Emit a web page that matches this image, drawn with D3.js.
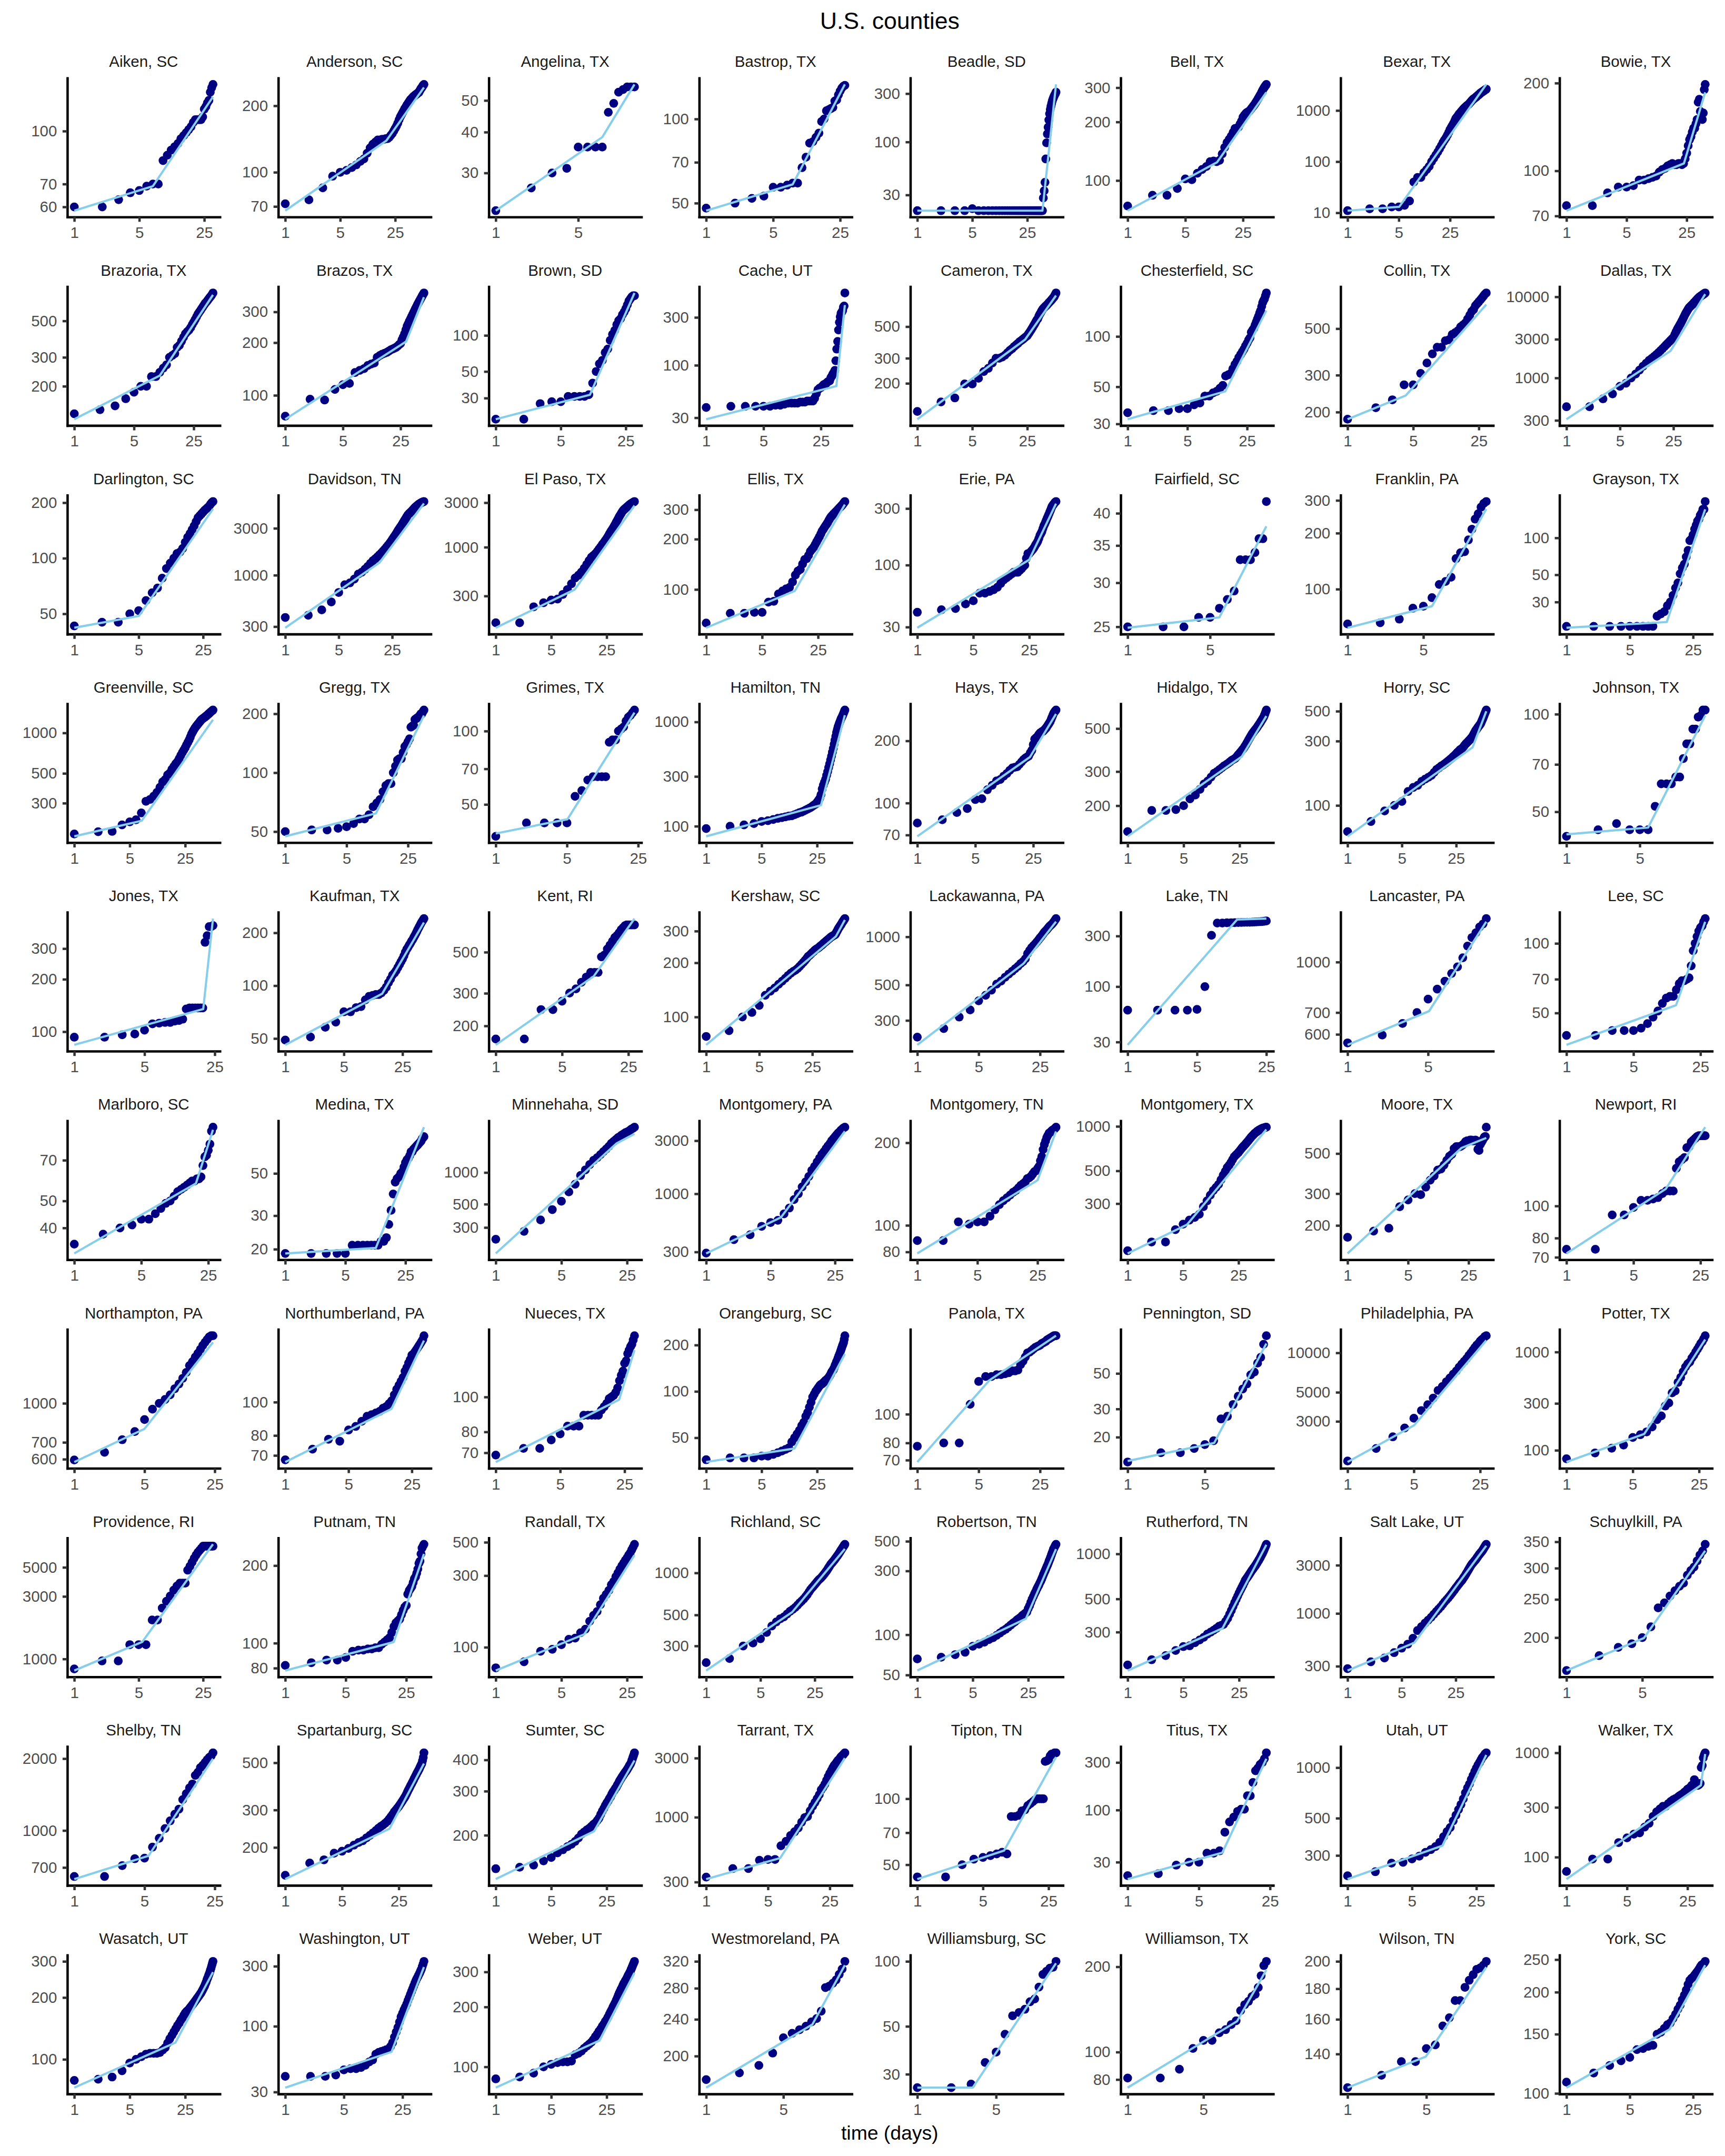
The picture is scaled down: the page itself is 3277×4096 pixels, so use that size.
<!DOCTYPE html>
<html><head><meta charset="utf-8">
<script src="https://cdn.jsdelivr.net/npm/d3@7"></script>
<style>html,body{margin:0;padding:0;background:#fff;}svg{display:block;}</style>
</head><body><svg id="chart" width="3277" height="4096"></svg>
<script>
const chartTitle = "U.S. counties";
const xAxisTitle = "time (days)";
const xTickValues = [1, 5, 25];

const countyNames = [
"Aiken, SC","Anderson, SC","Angelina, TX","Bastrop, TX","Beadle, SD","Bell, TX","Bexar, TX","Bowie, TX",
"Brazoria, TX","Brazos, TX","Brown, SD","Cache, UT","Cameron, TX","Chesterfield, SC","Collin, TX","Dallas, TX",
"Darlington, SC","Davidson, TN","El Paso, TX","Ellis, TX","Erie, PA","Fairfield, SC","Franklin, PA","Grayson, TX",
"Greenville, SC","Gregg, TX","Grimes, TX","Hamilton, TN","Hays, TX","Hidalgo, TX","Horry, SC","Johnson, TX",
"Jones, TX","Kaufman, TX","Kent, RI","Kershaw, SC","Lackawanna, PA","Lake, TN","Lancaster, PA","Lee, SC",
"Marlboro, SC","Medina, TX","Minnehaha, SD","Montgomery, PA","Montgomery, TN","Montgomery, TX","Moore, TX","Newport, RI",
"Northampton, PA","Northumberland, PA","Nueces, TX","Orangeburg, SC","Panola, TX","Pennington, SD","Philadelphia, PA","Potter, TX",
"Providence, RI","Putnam, TN","Randall, TX","Richland, SC","Robertson, TN","Rutherford, TN","Salt Lake, UT","Schuylkill, PA",
"Shelby, TN","Spartanburg, SC","Sumter, SC","Tarrant, TX","Tipton, TN","Titus, TX","Utah, UT","Walker, TX",
"Wasatch, UT","Washington, UT","Weber, UT","Westmoreland, PA","Williamsburg, SC","Williamson, TX","Wilson, TN","York, SC"];

const yTickValues = [
[60,70,100],[70,100,200],[30,40,50],[50,70,100],[30,100,300],[100,200,300],[10,100,1000],[70,100,200],
[200,300,500],[100,200,300],[30,50,100],[30,100,300],[200,300,500],[30,50,100],[200,300,500],[300,1000,3000,10000],
[50,100,200],[300,1000,3000],[300,1000,3000],[100,200,300],[30,100,300],[25,30,35,40],[100,200,300],[30,50,100],
[300,500,1000],[50,100,200],[50,70,100],[100,300,1000],[70,100,200],[200,300,500],[100,300,500],[50,70,100],
[100,200,300],[50,100,200],[200,300,500],[100,200,300],[300,500,1000],[30,100,300],[600,700,1000],[50,70,100],
[40,50,70],[20,30,50],[300,500,1000],[300,1000,3000],[80,100,200],[300,500,1000],[200,300,500],[70,80,100],
[600,700,1000],[70,80,100],[70,80,100],[50,100,200],[70,80,100],[20,30,50],[3000,5000,10000],[100,300,1000],
[1000,3000,5000],[80,100,200],[100,300,500],[300,500,1000],[50,100,300,500],[300,500,1000],[300,1000,3000],[200,250,300,350],
[700,1000,2000],[200,300,500],[200,300,400],[300,1000,3000],[50,70,100],[30,100,300],[300,500,1000],[100,300,1000],
[100,200,300],[30,100,300],[100,200,300],[200,240,280,320],[30,50,100],[80,100,200],[140,160,180,200],[100,150,200,250]];

const dailyCounts = [
[60,60,63,66,67,69,70,70,82,85,88,90,92,95,97,99,101,103,106,108,108,108,108,110,116,118,121,123,130,134,137],
[72,75,85,96,100,102,105,108,112,115,122,129,134,137,140,140,141,141,142,142,144,147,150,154,158,162,167,173,178,182,186,190,194,197,201,204,207,210,213,215,217,219,221,222,224,225,226,228,229,230,233,236,239,241,243,246,248,250],
[23,27,30,31,36,36,36,36,46,49,53,54,55,55,55],
[48,50,52,53,57,57,58,59,59,67,73,82,83,86,89,98,100,107,108,109,110,116,117,122,126,129,131,132],
[21,21,21,21,22,21,21,21,21,21,21,21,21,21,21,21,21,21,21,21,21,21,21,21,21,21,21,21,21,21,21,21,21,21,21,21,21,21,21,28,33,40,68,98,120,140,165,190,210,225,240,255,265,275,285,293,300,310],
[74,84,84,91,102,101,109,114,118,125,126,125,127,137,148,157,163,169,177,185,186,188,195,202,212,217,221,224,226,228,232,236,240,244,248,253,258,263,268,273,278,284,290,295,300,304,308,312],
[11,12,12,13,13,14,17,40,49,49,61,70,81,100,117,135,155,179,206,237,265,293,330,375,425,470,515,565,630,700,740,790,840,885,930,975,1020,1065,1110,1150,1190,1225,1260,1295,1330,1380,1430,1480,1535,1590,1630,1670,1710,1740,1770,1810,1850,1890,1930,1970,2010,2055,2100,2145,2190,2220,2255,2290,2320,2350,2385,2420,2455,2490,2520,2555,2590,2620],
[76,76,84,88,88,89,93,93,94,95,96,99,101,102,104,105,106,105,105,106,106,105,106,110,115,122,128,131,136,140,140,145,150,172,176,160,152,150,158,190,198],
[136,144,152,168,184,200,200,229,229,243,258,270,300,308,316,345,355,376,398,418,430,440,455,475,492,510,530,550,565,580,595,610,625,640,650,662,675,688,700,710,725,740],
[76,95,94,108,115,117,135,139,142,148,151,153,165,169,172,174,176,179,182,184,186,188,191,195,198,208,216,225,237,249,257,266,274,282,290,298,306,314,322,330,337,344,351,358,365,372,379,385],
[20,20,27,28,28,31,31,31,31,32,40,50,58,62,72,77,91,102,110,123,133,138,149,157,167,180,194,202,210,214,214],
[38,39,39,39,39,39,40,40,41,42,42,42,42,43,43,43,44,44,44,44,47,52,57,59,60,62,64,65,66,68,69,70,75,78,82,85,89,111,145,173,225,268,305,330,340,350,380,390,526],
[127,148,158,198,198,217,242,255,278,300,300,306,315,328,341,350,362,372,381,392,400,408,416,424,432,446,460,475,490,506,522,539,556,568,592,610,625,643,658,672,680,690,698,706,715,725,735,744,753,762,772,782,792,801,811,830,845,862],
[35,36,36,37,37,39,40,44,44,46,47,49,51,58,59,60,64,68,71,75,78,81,84,88,91,95,98,106,109,112,117,122,127,132,138,143,151,159,164,168,175,182],
[185,210,229,270,270,306,343,379,408,408,438,443,469,479,489,510,521,533,556,580,604,617,644,658,672,686,700,715,730,740],
[442,442,553,636,790,860,1000,1117,1250,1395,1520,1647,1745,1843,1950,2060,2180,2300,2420,2550,2670,2790,2920,3040,3170,3420,3700,3970,4200,4440,4700,4970,5250,5570,5890,6210,6490,6780,7060,7340,7510,7680,7850,8020,8190,8380,8570,8760,8950,9150,9320,9490,9660,9830,10000,10110,10220,10340,10460,10570,10690,10810,10930,11050,11170],
[43,45,45,50,52,59,65,69,78,88,94,100,106,108,113,122,130,136,143,150,158,166,170,174,178,182,185,188,191,196,200,203],
[372,392,444,535,668,800,836,913,1027,1074,1150,1230,1320,1405,1470,1537,1610,1680,1760,1840,1925,2010,2100,2200,2300,2410,2520,2630,2750,2875,2980,3090,3200,3330,3460,3590,3710,3840,3970,4100,4180,4260,4340,4410,4490,4570,4660,4740,4830,4910,4975,5040,5100,5170,5230,5280,5330,5380,5420,5470,5500,5530,5560,5590,5620],
[155,155,230,254,272,278,312,352,406,468,500,541,595,655,720,780,815,852,900,955,1010,1070,1120,1180,1240,1310,1385,1460,1530,1600,1680,1760,1850,1940,2030,2130,2210,2290,2380,2460,2510,2560,2610,2650,2700,2740,2780,2830,2870,2910,2940,2970,3000,3030,3060,3090],
[63,72,72,73,73,84,85,94,98,101,103,111,122,129,132,142,151,153,160,169,174,179,186,193,200,207,215,223,229,235,241,246,252,259,265,271,275,279,283,286,290,293,296,300,303,307,310,313,317,320,324,328,332,336],
[40,42,43,47,50,58,58,60,62,65,70,75,78,81,84,87,87,87,90,93,97,100,114,125,125,129,133,137,142,148,153,159,168,178,185,192,203,214,222,231,240,250,259,269,279,289,300,312,318,324,330,336,340,344],
[25,25,25,26,26,27,28,29,33,33,33,34,36,36,42],
[65,66,69,79,81,90,106,110,116,146,157,159,184,210,238,254,276,289,296],
[19,19,19,19,19,19,19,19,19,23,24,25,28,30,34,39,43,51,57,61,70,79,95,98,106,118,127,137,142,153,159,171,171,198],
[177,184,185,207,218,226,254,310,320,338,361,394,432,450,487,503,537,563,590,612,645,680,715,745,777,815,850,887,930,980,1015,1050,1083,1110,1135,1158,1182,1206,1230,1254,1268,1282,1295,1308,1322,1336,1350,1365,1380,1395,1410,1425,1440,1455,1468,1480],
[50,51,51,52,53,55,58,58,61,67,70,73,80,86,88,88,100,108,116,118,118,127,136,139,144,149,171,173,175,187,189,191,193,196,200,200,205,209],
[37,42,42,42,42,54,57,63,65,65,65,65,90,92,92,100,102,104,110,114,116,119,122],
[95,100,103,106,111,113,116,119,121,123,125,126,129,132,135,137,140,143,146,149,152,156,160,163,170,177,185,201,228,248,265,282,308,334,365,396,433,470,513,557,612,668,730,793,848,902,942,983,1025,1070,1100,1135,1175,1217,1258,1300],
[80,83,90,94,104,105,116,122,128,130,135,139,144,148,149,150,154,158,162,165,167,169,175,180,192,204,207,209,214,218,220,222,223,226,229,232,236,240,244,248,254,260,266,272,276,279,282],
[147,189,189,191,200,217,227,243,259,268,281,294,300,307,314,321,326,331,337,343,347,351,358,366,373,380,388,395,404,413,423,433,443,452,462,471,478,485,492,498,505,512,520,527,534,542,550,558,566,573,585,597,610,623],
[64,76,91,100,107,127,136,141,151,157,162,167,176,185,190,196,200,205,210,215,220,225,231,236,242,248,253,259,262,266,272,279,285,290,295,300,305,310,316,321,329,338,346,355,362,368,375,382,388,394,400,407,418,429,440,451,463,475,487,498,510],
[42,44,46,44,44,44,52,61,61,61,64,64,73,81,81,90,90,98,99,103,103],
[93,93,96,97,102,111,112,113,113,115,116,118,135,137,137,137,137,137,137,326,356,401,401,407],
[49,51,58,62,71,71,75,76,83,87,88,89,89,91,94,98,104,109,115,118,122,127,132,137,142,148,155,161,165,170,174,179,183,188,193,198,203,209,214,219,224,229,233,237,241],
[170,170,245,245,272,301,317,344,367,389,389,389,472,483,520,546,573,601,616,637,662,678,695,702,702,702,702,702,702],
[78,84,100,106,116,132,139,145,152,158,164,170,175,179,182,186,191,196,201,206,211,217,220,224,228,231,235,238,240,242,245,248,250,253,256,259,261,264,266,269,271,273,276,278,280,281,283,284,286,287,291,296,300,305,310,313,317,320,324,327,331,335,339,342,345,349,352],
[236,267,315,349,398,431,464,506,529,559,585,608,632,654,680,700,728,785,822,855,880,904,930,957,985,1011,1040,1069,1090,1112,1138,1163,1180,1196,1220,1244,1272,1300],
[60,60,60,60,61,100,305,398,398,400,400,401,402,403,404,405,405,406,407,408,409,410,412,414,416],
[565,597,648,700,770,826,874,923,967,1031,1120,1190,1230,1282,1310,1360],
[40,40,42,42,42,43,45,48,51,55,58,59,59,63,67,69,69,70,71,80,93,100,107,113,117,119,124,128],
[35,38,40,41,43,43,45,47,49,50,52,54,55,56,57,58,59,59,60,60,61,67,72,73,76,80,89,92],
[19,19,19,19,19,21,21,21,21,21,21,21,22,22,23,27,32,39,45,47,48,50,51,54,57,59,60,62,65,65,67,68,69,70,71,72,73,74,76,77,78],
[232,276,354,444,533,654,774,937,1060,1190,1305,1383,1478,1580,1675,1774,1896,1976,2060,2146,2200,2274,2331,2390,2430,2470,2533,2597,2640,2700],
[293,387,428,510,552,578,660,745,888,1000,1153,1279,1429,1623,1757,1932,2091,2264,2390,2547,2693,2826,3000,3120,3250,3380,3510,3600,3730,3820,3910,3970],
[88,88,103,101,103,103,108,114,119,123,126,129,132,134,137,140,142,144,148,149,151,154,157,158,161,164,172,178,189,197,203,209,213,217,218,220,222,223,224,226,228],
[144,165,165,200,218,232,242,254,286,313,342,368,386,405,435,467,496,527,546,569,595,622,638,652,667,686,704,721,736,751,766,782,797,813,830,846,859,872,885,898,907,916,925,934,942,948,954,960,966,971,974,977,980,983,986,988],
[172,186,193,254,277,300,296,326,356,376,405,411,432,459,483,495,533,546,546,546,555,566,582,588,588,594,594,588,588,594,588,528,520,560,574,588,602,617,622,700],
[74,74,94,94,99,104,104,105,106,109,111,111,111,130,136,138,140,150,151,156,158,160,162,163,163,163,163,163],
[596,639,717,773,862,948,1000,1036,1081,1143,1193,1257,1326,1412,1463,1526,1581,1639,1698,1747,1791,1835,1855,1855],
[68,73,78,77,83,85,88,91,92,93,94,96,97,99,101,105,109,112,115,118,123,126,130,133,137,138,140,142,144,146,148,150,152,156],
[69,72,72,76,79,83,83,83,89,89,89,89,89,92,94,96,99,100,101,103,106,111,115,118,124,126,132,135,138,140,144,148],
[36,37,37,37,38,38,39,40,41,42,43,47,50,53,56,60,63,69,73,79,85,92,96,100,103,106,109,111,112,114,116,118,119,121,123,126,129,133,136,138,142,147,151,156,160,165,170,175,180,186,191,197,202,208,218,230],
[78,80,80,108,129,134,134,136,136,137,138,140,140,141,147,151,156,161,162,164,166,168,169,170,171,173,174,175,176,178,179,180,181,182,183,184,184,184],
[14,16,16,17,18,19,26,27,32,36,40,43,49,51,58,63,76,86],
[1495,1862,2287,2674,3170,3630,4020,4520,5170,5540,6010,6430,6880,7270,7780,8220,8620,9040,9540,10000,10490,11000,11470,11790,12280,12620,12880,13330,13510],
[82,94,105,113,135,144,154,173,205,224,282,303,384,402,491,552,632,705,760,794,870,926,1000,1066,1136,1222,1278,1363,1466],
[840,966,966,1286,1286,1286,1985,1985,2446,2754,3020,3350,3600,3790,3790,3790,4760,5100,5470,5870,6210,6520,6760,7000,7250,7250,7250,7250,7250,7250,7250,7250],
[82,84,86,86,88,93,94,94,95,95,96,96,99,101,103,105,110,116,120,122,124,129,134,138,140,155,160,163,166,172,178,181,187,194,204,208,222,234,238,242],
[73,80,94,97,104,113,115,125,132,149,163,173,192,212,225,239,261,274,295,313,332,349,364,380,394,411,424,445,464,485],
[228,244,300,315,338,375,417,446,470,484,508,531,548,566,588,611,631,651,675,699,729,759,782,803,825,847,869,891,905,920,940,960,980,1002,1024,1046,1072,1098,1124,1150,1168,1187,1206,1224,1243,1264,1286,1307,1329,1350,1373,1396,1420,1444,1468,1490,1513,1535,1558,1581,1604],
[66,68,71,74,82,85,88,92,95,99,103,107,110,114,118,122,125,129,132,135,139,142,145,148,157,165,175,185,193,202,210,219,227,235,244,252,262,272,283,293,303,313,324,334,346,358,370,382,396,410,423,437,446,456,466,475],
[181,196,209,226,240,243,255,266,277,291,300,309,318,328,333,338,354,371,395,419,445,472,497,522,548,572,595,618,643,668,685,701,718,736,754,772,787,803,818,834,851,869,887,905,923,943,964,985,1006,1028,1053,1079,1105,1132,1160],
[284,332,362,409,453,497,568,677,740,801,858,915,980,1045,1104,1163,1234,1305,1365,1425,1492,1560,1633,1706,1780,1853,1926,2000,2062,2125,2207,2288,2370,2467,2563,2660,2757,2855,2952,3050,3118,3186,3254,3322,3390,3474,3558,3642,3726,3810,3880,3950,4020,4090,4160,4257,4354,4451,4548,4645,4742,4840],
[165,180,189,193,200,213,238,245,255,263,270,275,288,296,302,313,324,332,345],
[642,642,713,762,766,852,928,1019,1098,1170,1229,1348,1426,1508,1566,1702,1755,1835,1877,1926,1978,2022,2050,2115],
[148,169,175,188,192,198,205,211,215,222,228,234,240,246,251,255,260,265,272,279,286,294,300,306,312,319,326,333,340,347,356,365,374,382,391,399,407,415,424,432,440,448,455,463,471,480,488,496,512,530,557],
[147,149,152,158,163,170,175,180,184,189,195,202,206,210,213,217,221,224,229,234,242,250,256,263,269,274,280,285,292,298,302,307,311,317,322,328,333,337,342,346,350,354,358,361,365,369,373,378,382,386,392,399,406,413,420,427],
[329,386,386,450,457,457,589,640,713,764,820,913,993,1014,1128,1228,1318,1415,1519,1666,1748,1851,1987,2133,2264,2384,2508,2620,2700,2790,2880,2940,3040,3110,3170,3240,3310],
[44,44,50,53,54,55,56,57,56,83,83,84,88,89,93,95,97,99,100,100,100,100,148,149,151,157,160,160,162,162],
[22,23,28,30,30,37,37,39,60,76,85,97,102,102,139,139,189,248,264,287,300,327,375],
[227,240,270,273,286,297,313,325,339,359,388,416,440,482,521,563,603,651,708,757,798,852,899,949,995,1037,1072,1112,1149,1174,1206,1225],
[73,96,96,138,153,166,171,194,211,246,272,290,307,307,326,342,354,363,372,385,395,405,419,430,448,456,468,488,496,553,488,496,488,496,509,724,756,897,959,1000],
[79,80,82,88,96,100,103,106,107,107,107,108,111,114,120,126,131,136,141,146,150,155,159,164,168,171,173,176,179,182,185,188,191,194,197,200,203,206,209,212,216,220,224,228,233,238,244,249,255,260,266,272,279,286,293,300],
[40,40,40,41,45,46,46,47,49,52,54,60,62,63,64,65,66,69,74,82,90,98,108,119,127,135,142,150,160,169,179,189,199,209,220,230,239,247,256,265,275,285,299,313,328],
[87,89,93,100,103,105,106,106,107,115,117,120,124,127,130,133,137,142,146,151,155,160,164,169,173,178,184,189,194,200,205,210,216,222,229,235,240,246,251,257,262,266,271,275,280,285,290,294,299,304,310,316,322,328,333,339],
[178,184,191,203,219,224,228,232,237,241,250,281,283,287,292,300,308,320],
[26,26,27,34,38,46,56,58,60,65,67,76,87,90,93,94,100],
[81,81,87,103,110,110,117,120,125,129,140,147,151,157,160,169,186,202,209],
[123,129,136,136,143,145,156,161,172,172,181,186,190,194,195,197,200],
[108,115,121,125,128,135,136,138,139,150,152,156,160,162,167,172,178,183,190,196,203,211,217,220,222,225,228,231,234,238,241,242,244,247]];

const fitKnots = [
[[1,58.5],[7,69],[31,126]],[[1,67],[19.3,139],[58,242]],[[1,23],[8,38.6],[15,56]],[[1,47],[8,58.4],[28,133]],
[[1,21],[39,21],[58,370]],[[1,70],[12.1,124],[48,284]],[[1,11],[5.07,13.1],[78,3240]],[[1,73],[23.2,106],[41,186]],
[[1,126],[10,232],[42,720]],[[1,73],[29.2,203],[48,364]],[[1,20],[10.3,32],[31,226]],[[1,29],[38.6,62],[49,398]],
[[1,112],[23.5,406],[58,826]],[[1,32],[13.9,47],[42,143]],[[1,185],[4.17,240],[30,651]],[[1,310],[22.9,2150],[65,10800]],
[[1,42],[5.03,48.7],[32,185]],[[1,292],[17.1,1344],[65,5360]],[[1,137],[9.9,352],[56,2800]],[[1,59],[12.8,98],[54,322]],
[[1,29.6],[25,111],[54,330]],[[1,24.9],[6,26],[15,37.9]],[[1,62],[6,81],[19,270]],[[1,18.5],[12.8,20.6],[34,171]],
[[1,170],[7.07,222],[56,1254]],[[1,47.3],[10.8,62],[38,196]],[[1,38],[5.06,43.5],[23,119]],[[1,80],[28,159],[56,1160]],
[[1,69],[22.8,167],[47,270]],[[1,139],[26.6,358],[54,580]],[[1,59],[40.7,270],[61,500]],[[1,42.6],[6,44.7],[21,99]],
[[1,84],[19.2,135],[24,446]],[[1,46],[14.3,90],[45,229]],[[1,158],[10.8,371],[29,759]],[[1,70],[51,280],[67,346]],
[[1,211],[16.2,680],[38,1244]],[[1,28.2],[12.7,430],[25,438]],[[1,557],[5.1,707],[16,1330]],[[1,36.4],[13.9,54],[28,124]],
[[1,32.4],[18.6,57.8],[28,90]],[[1,19],[11.3,20.3],[41,87.5]],[[1,170],[19.4,1896],[30,2330]],[[1,291],[6.5,615],[32,3640]],
[[1,79],[25,146],[41,220]],[[1,138],[5.6,216],[56,953]],[[1,140],[20.7,537],[40,610]],[[1,71.9],[10.9,112.7],[28,173]],
[[1,585],[5,792],[24,1747]],[[1,67],[14.9,95.6],[34,151]],[[1,66],[21.8,98.3],[32,135]],[[1,34.8],[13,42.6],[56,175]],
[[1,69],[6.6,130],[38,184]],[[1,14.2],[6.07,18.4],[18,76.8]],[[1,1470],[5.03,2800],[29,12450]],[[1,76],[6.6,146.6],[29,1340]],
[[1,816],[5.47,1350],[32,7500]],[[1,78.3],[17.9,101],[40,222]],[[1,70],[8.76,122],[30,411]],[[1,200],[12.8,524],[61,1485]],
[[1,54],[23.4,132],[56,437]],[[1,166],[15.5,318],[55,1150]],[[1,272],[7.3,513],[62,4680]],[[1,165],[5.18,199.5],[19,332]],
[[1,626],[5.47,783],[24,2000]],[[1,142],[19.2,245],[51,496]],[[1,133.6],[17.3,207.3],[56,398]],[[1,317],[6.86,468],[37,3000]],
[[1,43],[8.4,58],[30,155]],[[1,20.3],[8.5,37.4],[23,327]],[[1,217],[10.7,343],[32,1190]],[[1,61.6],[35.7,488],[40,975]],
[[1,72.8],[18.8,120.6],[56,266]],[[1,32.5],[18.5,62.6],[45,296]],[[1,78.6],[20.3,135.6],[56,297]],[[1,171],[9.15,234],[18,314]],
[[1,26],[3.1,26],[17,98]],[[1,74.9],[10.2,128.5],[19,195]],[[1,123],[4.94,138.6],[17,195.6]],[[1,104],[13.7,154.9],[34,240.6]]];

// ---------- layout (reference pixel units, scaled by 0.91) ----------
const S = 0.91;
const FONT = "'Liberation Sans', Arial, Helvetica, sans-serif";
const colLeft = [140.6, 581, 1020.5, 1459.7, 1900.5, 2339.6, 2798.7, 3255.7];
const PW = 318.5, PH = 290, ROW0 = 163, ROWSTEP = 435.4;
const NCOL = 8;

const svg = d3.select("#chart");
svg.append("rect").attr("width", 3277).attr("height", 4096).attr("fill", "#ffffff");
const root = svg.append("g").attr("transform", `scale(${S})`);

countyNames.forEach((name, i) => {
  const col = i % NCOL, row = Math.floor(i / NCOL);
  const g = root.append("g").attr("transform", `translate(${colLeft[col]},${ROW0 + row * ROWSTEP})`);
  const vals = dailyCounts[i];
  const n = vals.length;
  const pts = vals.map((v, j) => [j + 1, v]);
  const knots = fitKnots[i];

  const lx = Math.log(n), px = 0.05 * lx;
  const x = d3.scaleLog().domain([Math.exp(-px), Math.exp(lx + px)]).range([0, PW]);
  const allY = vals.concat(knots.map(k => k[1]));
  const ext = d3.extent(allY);
  const ly0 = Math.log(ext[0]), ly1 = Math.log(ext[1]), py = 0.05 * (ly1 - ly0);
  const y = d3.scaleLog().domain([Math.exp(ly0 - py), Math.exp(ly1 + py)]).range([PH, 0]);

  // points
  g.append("g").selectAll("circle").data(pts).join("circle")
    .attr("cx", d => x(d[0])).attr("cy", d => y(d[1]))
    .attr("r", 9.2).attr("fill", "#000080");

  // fitted segmented line
  g.append("path").datum(knots)
    .attr("d", d3.line().x(d => x(d[0])).y(d => y(d[1])))
    .attr("fill", "none").attr("stroke", "#87CEEB").attr("stroke-width", 4.6)
    .attr("stroke-linejoin", "round");

  // axes
  const xd = x.domain();
  const xa = d3.axisBottom(x)
    .tickValues(xTickValues.filter(t => t >= xd[0] && t <= xd[1]))
    .tickFormat(d3.format("d")).tickSizeInner(10).tickSizeOuter(0).tickPadding(11);
  const yd = y.domain();
  const ya = d3.axisLeft(y)
    .tickValues(yTickValues[i].filter(t => t >= yd[0] && t <= yd[1]))
    .tickFormat(d3.format("d")).tickSizeInner(10).tickSizeOuter(0).tickPadding(11.5);

  const gx = g.append("g").attr("transform", `translate(0,${PH})`).call(xa);
  const gy = g.append("g").call(ya);
  [gx, gy].forEach(ax => {
    ax.attr("font-family", FONT).attr("font-size", 32.4);
    ax.select(".domain").attr("stroke", "#000").attr("stroke-width", 5).attr("stroke-linecap", "square");
    ax.selectAll(".tick line").attr("stroke", "#333333").attr("stroke-width", 5);
    ax.selectAll(".tick text").attr("fill", "#4D4D4D");
  });

  // strip title
  g.append("text").attr("x", PW / 2).attr("y", -23)
    .attr("text-anchor", "middle").attr("font-family", FONT).attr("font-size", 32.4)
    .attr("fill", "#1A1A1A").text(name);
});

const centerX = (colLeft[0] + colLeft[NCOL - 1] + PW) / 2;
root.append("text").attr("x", centerX).attr("y", 60).attr("text-anchor", "middle")
  .attr("font-family", FONT).attr("font-size", 49).attr("fill", "#000").text(chartTitle);
root.append("text").attr("x", centerX).attr("y", 4467).attr("text-anchor", "middle")
  .attr("font-family", FONT).attr("font-size", 41).attr("fill", "#000").text(xAxisTitle);
</script>
</body></html>
